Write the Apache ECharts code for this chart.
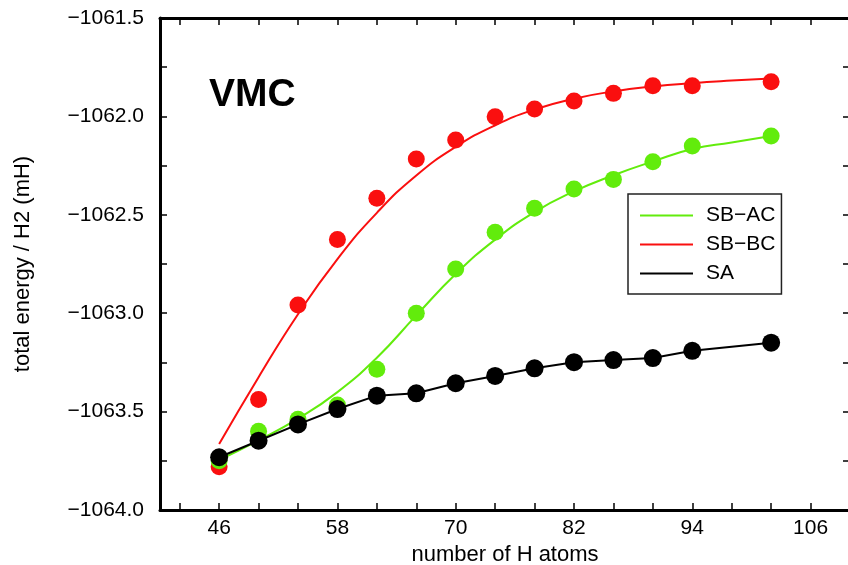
<!DOCTYPE html>
<html>
<head>
<meta charset="utf-8">
<script src="https://cdn.jsdelivr.net/npm/echarts@6/dist/echarts.min.js"></script>
<style>
  html, body { margin: 0; padding: 0; background: #fff; }
  #main { width: 848px; height: 565px; }
</style>
</head>
<body>
<div id="main"></div>
<script>
// number of H atoms
var xVals = [46, 50, 54, 58, 62, 66, 70, 74, 78, 82, 86, 90, 94, 102];
// VMC energies (mH)
var saDots   = [-1063.732, -1063.648, -1063.565, -1063.487, -1063.419, -1063.407, -1063.356, -1063.319, -1063.280, -1063.249, -1063.238, -1063.228, -1063.191, -1063.150];
var sbacDots = [-1063.750, -1063.600, -1063.539, -1063.466, -1063.285, -1063.000, -1062.775, -1062.589, -1062.467, -1062.369, -1062.320, -1062.230, -1062.150, -1062.100];
var sbbcDots = [-1063.780, -1063.438, -1062.958, -1062.625, -1062.416, -1062.216, -1062.120, -1062.002, -1061.962, -1061.922, -1061.883, -1061.844, -1061.844, -1061.824];
// fitted curves at these x positions
var fitX     = [46, 50, 54, 58, 62, 66, 70, 74, 78, 82, 86, 90, 94, 98, 102];
var sbacFit  = [-1063.746, -1063.646, -1063.536, -1063.401, -1063.226, -1063.011, -1062.801, -1062.626, -1062.486, -1062.381, -1062.299, -1062.229, -1062.166, -1062.133, -1062.100];
var sbbcFit  = [-1063.665, -1063.325, -1063.005, -1062.725, -1062.490, -1062.300, -1062.155, -1062.045, -1061.965, -1061.910, -1061.873, -1061.848, -1061.831, -1061.818, -1061.807];
// tick positions
var xTickValues  = [42, 46, 50, 54, 58, 62, 66, 70, 74, 78, 82, 86, 90, 94, 98, 102, 106];
var xLabelValues = [46, 58, 70, 82, 94, 106];

var GREEN = '#62ec0c', RED = '#fa0f0f', BLACK = '#000000';
var FONT = 'Liberation Sans';

function pairs(xs, ys) {
  return xs.map(function (x, i) { return [x, ys[i]]; });
}
function yFmt(v) {
  return (v < 0 ? '\u2212' : '') + Math.abs(v).toFixed(1);
}

var myChart = echarts.init(document.getElementById('main'));

var axisLine = { show: true, onZero: false, lineStyle: { color: '#000', width: 3 } };
var tick = { show: true, inside: true, length: 7, lineStyle: { color: '#000', width: 1.5 } };

var option = {
  animation: false,
  backgroundColor: '#fff',
  textStyle: { fontFamily: FONT },
  graphic: [{
    type: 'text',
    left: 209, top: 76,
    style: { text: 'VMC', font: 'bold 39px "Liberation Sans"', fill: '#000' }
  }],
  legend: {
    left: 628, top: 194,
    orient: 'vertical',
    padding: [11, 6, 10, 12],
    itemGap: 8,
    itemWidth: 53, itemHeight: 2,
    icon: 'rect',
    borderColor: '#222', borderWidth: 1.5,
    backgroundColor: '#fff',
    textStyle: { fontSize: 21, color: '#000', lineHeight: 20, padding: [0, 0, 0, 8], fontFamily: FONT },
    data: [
      { name: 'SB\u2212AC', itemStyle: { color: GREEN } },
      { name: 'SB\u2212BC', itemStyle: { color: RED } },
      { name: 'SA', itemStyle: { color: BLACK } }
    ]
  },
  grid: { left: 160, top: 18, width: 690, height: 492, containLabel: false, outerBoundsMode: 'none' },
  xAxis: [{
    type: 'value', min: 40, max: 110, position: 'bottom',
    name: 'number of H atoms', nameLocation: 'middle', nameGap: 32,
    nameTextStyle: { fontSize: 22, color: '#000', fontFamily: FONT },
    axisLine: axisLine,
    axisTick: Object.assign({ customValues: xTickValues }, tick),
    axisLabel: { customValues: xLabelValues, fontSize: 21, color: '#000', margin: 8, fontFamily: FONT },
    splitLine: { show: false }
  }, {
    type: 'value', min: 40, max: 110, position: 'top',
    axisLine: axisLine,
    axisTick: Object.assign({ customValues: xTickValues }, tick),
    axisLabel: { show: false },
    splitLine: { show: false }
  }],
  yAxis: [{
    type: 'value', min: -1064, max: -1061.5, interval: 0.5, position: 'left',
    name: 'total energy / H2 (mH)', nameLocation: 'middle', nameGap: 126,
    nameTextStyle: { fontSize: 22, color: '#000', fontFamily: FONT },
    axisLine: axisLine,
    axisTick: tick,
    minorTick: { show: true, splitNumber: 2, length: 7, lineStyle: { color: '#000', width: 1.5 } },
    axisLabel: { formatter: yFmt, fontSize: 21, color: '#000', margin: 16, fontFamily: FONT },
    splitLine: { show: false }
  }, {
    type: 'value', min: -1064, max: -1061.5, interval: 0.5, position: 'right',
    axisLine: axisLine,
    axisTick: tick,
    minorTick: { show: true, splitNumber: 2, length: 7, lineStyle: { color: '#000', width: 1.5 } },
    axisLabel: { show: false },
    splitLine: { show: false }
  }],
  series: [{
    name: 'SB\u2212BC', type: 'line', smooth: 0.5, showSymbol: false, z: 2,
    lineStyle: { color: RED, width: 2 }, itemStyle: { color: RED },
    data: pairs(fitX, sbbcFit)
  }, {
    name: 'SB\u2212AC', type: 'line', smooth: 0.5, showSymbol: false, z: 2,
    lineStyle: { color: GREEN, width: 2 }, itemStyle: { color: GREEN },
    data: pairs(fitX, sbacFit)
  }, {
    name: 'SB-BC points', type: 'scatter', symbol: 'circle', symbolSize: 17, z: 3,
    itemStyle: { color: RED, opacity: 1 },
    data: pairs(xVals, sbbcDots)
  }, {
    name: 'SB-AC points', type: 'scatter', symbol: 'circle', symbolSize: 17, z: 4,
    itemStyle: { color: GREEN, opacity: 1 },
    data: pairs(xVals, sbacDots)
  }, {
    name: 'SA', type: 'line', symbol: 'circle', symbolSize: 18, showSymbol: true, z: 5,
    lineStyle: { color: BLACK, width: 2 }, itemStyle: { color: BLACK },
    data: pairs(xVals, saDots)
  }]
};
myChart.setOption(option);
</script>
</body>
</html>
